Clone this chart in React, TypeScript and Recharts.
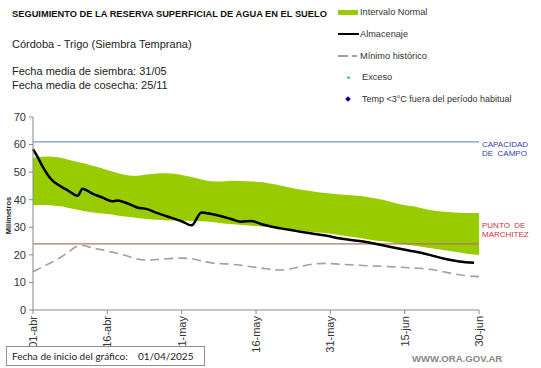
import React from 'react';
import {Area, ComposedChart, Line, ReferenceLine, XAxis, YAxis} from 'recharts';

// days since 01-abr
const days = [0, 1, 2, 3, 4, 5, 6, 7, 9, 10, 12, 14, 16, 17, 19, 21, 23, 25, 27, 30, 32, 34, 36, 38, 40, 42, 44, 46, 48, 50, 53, 56, 59, 62, 65, 68, 71, 74, 77, 80, 83, 86, 89, 90];

const almacenaje = [58.3, 55.3, 51.8, 49.0, 46.8, 45.5, 44.4, 43.4, 41.4, 44.0, 42.2, 40.8, 39.4, 39.7, 38.7, 37.2, 36.6, 35.2, 34.0, 32.2, 30.7, 35.4, 34.8, 34.0, 33.0, 32.0, 32.3, 31.2, 30.3, 29.6, 28.7, 27.8, 27.0, 25.9, 25.2, 24.4, 23.3, 22.2, 21.2, 20.0, 18.6, 17.6, 17.1, null];

const normalMax = [55.2, 55.5, 55.6, 55.7, 55.6, 55.4, 55.0, 54.6, 53.7, 53.3, 52.3, 51.3, 50.2, 49.7, 48.9, 48.7, 49.1, 49.5, 49.6, 49.0, 48.2, 47.3, 46.7, 46.6, 46.9, 46.8, 46.6, 46.4, 45.8, 45.2, 44.0, 43.2, 42.4, 41.9, 41.5, 40.8, 39.8, 38.4, 37.5, 36.3, 35.6, 35.3, 35.2, 35.2];

const normalMin = [38.1, 38.1, 38.1, 38.1, 37.9, 37.7, 37.5, 37.1, 36.4, 36.0, 35.4, 35.0, 34.6, 34.3, 33.8, 33.4, 33.0, 32.7, 32.5, 32.5, 32.3, 32.2, 31.9, 31.5, 31.2, 30.8, 30.6, 30.3, 29.9, 29.5, 29.0, 28.4, 27.9, 27.1, 26.4, 25.5, 24.8, 24.0, 23.3, 22.5, 21.7, 20.9, 20.1, 19.9];

const minimoHistorico = [13.9, 14.8, 15.7, 16.6, 17.5, 18.5, 19.6, 20.8, 23.2, 23.4, 22.5, 21.8, 21.0, 20.6, 19.6, 18.5, 18.1, 18.3, 18.6, 18.8, 18.6, 17.8, 17.1, 16.8, 16.6, 16.2, 15.7, 15.2, 14.7, 14.5, 15.3, 16.5, 16.9, 16.6, 16.3, 16.0, 15.8, 15.5, 15.2, 14.8, 13.8, 12.8, 12.2, 12.1];

const tickDays = [0, 15, 30, 45, 60, 75, 90];
const tickLabels = ['01-abr', '16-abr', '01-may', '16-may', '31-may', '15-jun', '30-jun'];
const yTicks = [0, 10, 20, 30, 40, 50, 60, 70];

const capacidadCampo = 61;
const puntoMarchitez = 24;

const data = days.map((d, i) => ({
    day: d,
    almacenaje: almacenaje[i],
    rango: [normalMin[i], normalMax[i]],
    minimo: minimoHistorico[i],
}));

const FONT = '"Liberation Sans", Arial, sans-serif';

const DateTick = ({x, y, payload}: any) => {
    const label = tickLabels[tickDays.indexOf(payload.value)];
    return (
        <text x={x} y={y + 4} transform={`rotate(-90, ${x}, ${y})`} textAnchor="end"
              fontSize={11} fill="#333" fontFamily={FONT}>{label}</text>
    );
};

const CapacidadLabel = ({viewBox}: any) => {
    const {x, y, width} = viewBox;
    return (
        <text x={x + width + 3} y={y + 5} fontSize={8} fill="#3a3aa8" fontFamily={FONT}>
            <tspan x={x + width + 3}>CAPACIDAD</tspan>
            <tspan x={x + width + 3} dy={9}>DE{'\u00a0\u00a0'}CAMPO</tspan>
        </text>
    );
};

const MarchitezLabel = ({viewBox}: any) => {
    const {x, y, width} = viewBox;
    return (
        <text x={x + width + 3} y={y - 16} fontSize={8} fill="#cc3344" fontFamily={FONT}>
            <tspan x={x + width + 3}>PUNTO{'\u00a0\u00a0'}DE</tspan>
            <tspan x={x + width + 3} dy={9}>MARCHITEZ</tspan>
        </text>
    );
};

const legendText: React.CSSProperties = {position: 'absolute', fontSize: 9.2, color: '#333', fontFamily: FONT, lineHeight: '10px', whiteSpace: 'nowrap'};

export default function App() {
    return (
        <div style={{position: 'absolute', left: 0, top: 0, width: 541, height: 368, background: '#fff', fontFamily: FONT}}>
            <ComposedChart width={541} height={368} data={data}
                           margin={{top: 117, right: 62, bottom: 18, left: 0}}>
                <XAxis dataKey="day" type="number" domain={[0, 90]} ticks={tickDays} interval={0}
                       height={40} tickSize={4} tickMargin={2} stroke="#888" tick={<DateTick/>}/>
                <YAxis type="number" domain={[0, 70]} ticks={yTicks} interval={0} width={33}
                       tickSize={4} tickMargin={3} stroke="#888"
                       tick={{fontSize: 11, fill: '#333', fontFamily: FONT}}/>
                <Area type="monotone" dataKey="rango" stroke="none" fill="#99cc00" fillOpacity={1}
                      isAnimationActive={false}/>
                <ReferenceLine y={capacidadCampo} stroke="#8094c6" strokeWidth={1.2} label={<CapacidadLabel/>}/>
                <ReferenceLine y={puntoMarchitez} stroke="#b5706a" strokeWidth={1.2} label={<MarchitezLabel/>}/>
                <Line type="monotone" dataKey="minimo" stroke="#a0a0a0" strokeWidth={1.6}
                      strokeDasharray="9 5" dot={false} isAnimationActive={false}/>
                <Line type="monotone" dataKey="almacenaje" stroke="#000" strokeWidth={2.5}
                      dot={false} isAnimationActive={false}/>
            </ComposedChart>

            <div style={{position: 'absolute', left: 12, top: 9, fontSize: 9.3, fontWeight: 'bold', color: '#111', whiteSpace: 'nowrap'}}>
                SEGUIMIENTO DE LA RESERVA SUPERFICIAL DE AGUA EN EL SUELO
            </div>
            <div style={{position: 'absolute', left: 12, top: 38, fontSize: 11, color: '#222', whiteSpace: 'nowrap'}}>
                Córdoba - Trigo (Siembra Temprana)
            </div>
            <div style={{position: 'absolute', left: 12, top: 65, fontSize: 11, color: '#222', lineHeight: '13.5px', whiteSpace: 'nowrap'}}>
                Fecha media de siembra: 31/05<br/>Fecha media de cosecha: 25/11
            </div>

            <div style={{position: 'absolute', left: 338, top: 10, width: 20, height: 5, background: '#99cc00'}}/>
            <div style={{...legendText, left: 360, top: 7}}>Intervalo Normal</div>
            <div style={{position: 'absolute', left: 338, top: 33, width: 21, height: 2, background: '#000'}}/>
            <div style={{...legendText, left: 360, top: 29}}>Almacenaje</div>
            <div style={{position: 'absolute', left: 338, top: 55, width: 10, height: 1.5, background: '#a0a0a0'}}/>
            <div style={{position: 'absolute', left: 352, top: 55, width: 5, height: 1.5, background: '#a0a0a0'}}/>
            <div style={{...legendText, left: 360, top: 51}}>Mínimo histórico</div>
            <div style={{position: 'absolute', left: 346.5, top: 75.5, width: 3, height: 3, borderRadius: 2, background: '#33cccc'}}/>
            <div style={{...legendText, left: 362, top: 72}}>Exceso</div>
            <div style={{position: 'absolute', left: 346, top: 97, width: 4, height: 4, background: '#000099', transform: 'rotate(45deg)'}}/>
            <div style={{...legendText, left: 362, top: 94, fontSize: 9}}>Temp &lt;3°C fuera del período habitual</div>

            <div style={{position: 'absolute', left: 2, top: 211, fontSize: 7.5, fontWeight: 'bold', color: '#222',
                transform: 'rotate(-90deg)', transformOrigin: 'center', width: 40, textAlign: 'center', marginLeft: -14}}>
                Milímetros
            </div>

            <div style={{position: 'absolute', left: 6, top: 346, width: 199, height: 20, border: '1px solid #9a8a8a',
                fontFamily: 'Lato, "Open Sans", sans-serif', fontSize: 10, color: '#222', lineHeight: '18px',
                boxSizing: 'border-box', whiteSpace: 'nowrap', background: '#fff'}}>
                <span style={{position: 'absolute', left: 5}}>Fecha de inicio del gráfico:</span>
                <span style={{position: 'absolute', left: 131}}>01/04/2025</span>
            </div>
            <div style={{position: 'absolute', left: 412, top: 353, fontSize: 9.6, fontWeight: 'bold', color: '#888', whiteSpace: 'nowrap'}}>
                WWW.ORA.GOV.AR
            </div>
        </div>
    );
}
